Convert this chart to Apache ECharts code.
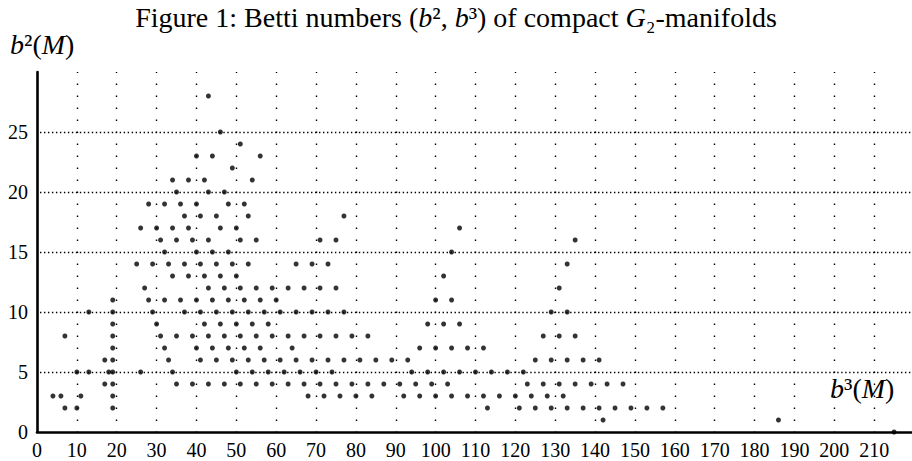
<!DOCTYPE html>
<html>
<head>
<meta charset="utf-8">
<script src="https://cdn.jsdelivr.net/npm/echarts@6/dist/echarts.min.js"></script>
<style>
html,body{margin:0;padding:0;background:#fff;}
#chart{width:912px;height:461px;}
</style>
</head>
<body>
<div id="chart"></div>
<script>
// b2 value of each row, and the b3 values of the points in that row
const b2Rows = [28, 25, 24, 23, 22, 21, 20, 19, 18, 17, 16, 15, 14, 13, 12, 11, 10, 9, 8, 7, 6, 5, 4, 3, 2, 1, 0];
const b3ByRow = [
  [43],
  [46],
  [51],
  [40, 44, 56],
  [49],
  [34, 38, 42, 54],
  [35, 43, 47],
  [28, 32, 36, 40, 48, 52],
  [37, 41, 45, 53, 77],
  [26, 30, 34, 38, 46, 50, 106],
  [31, 35, 39, 43, 51, 55, 71, 75, 135],
  [32, 40, 44, 48, 104],
  [25, 29, 33, 37, 41, 45, 49, 53, 65, 69, 73, 133],
  [34, 38, 42, 46, 50, 102],
  [27, 43, 47, 51, 55, 59, 63, 67, 71, 75, 131],
  [19, 28, 32, 36, 40, 44, 48, 52, 56, 60, 100, 104],
  [13, 19, 29, 37, 41, 45, 49, 53, 57, 61, 65, 69, 73, 77, 129, 133],
  [19, 30, 42, 46, 50, 54, 58, 98, 102, 106],
  [7, 19, 31, 35, 39, 43, 47, 51, 55, 59, 63, 67, 71, 75, 79, 83, 127, 131, 135],
  [19, 32, 40, 44, 48, 52, 56, 64, 96, 100, 104, 108, 112],
  [17, 19, 33, 41, 45, 49, 53, 57, 61, 65, 69, 73, 77, 81, 85, 89, 93, 125, 129, 133, 137, 141],
  [10, 13, 18, 19, 26, 34, 50, 54, 58, 62, 66, 70, 74, 94, 98, 102, 106, 110, 114, 118, 122],
  [17, 19, 35, 39, 43, 47, 51, 55, 59, 63, 67, 71, 75, 79, 83, 87, 91, 95, 99, 103, 123, 127, 131, 135, 139, 143, 147],
  [4, 6, 11, 19, 68, 72, 76, 80, 84, 92, 96, 100, 104, 108, 112, 116, 120, 124, 128, 132],
  [7, 10, 19, 113, 121, 125, 129, 133, 137, 141, 145, 149, 153, 157],
  [142, 186],
  [215]
];
// dotted grid positions
const xGridTicks = [10, 20, 30, 40, 50, 60, 70, 80, 90, 100, 110, 120, 130, 140, 150, 160, 170, 180, 190, 200, 210];
const yGridTicks = [5, 10, 15, 20, 25];

const points = [];
b2Rows.forEach((b2, i) => b3ByRow[i].forEach(b3 => points.push([b3, b2])));

const SERIF = '"Liberation Serif", "DejaVu Serif", serif';

const gridLines = [];
xGridTicks.forEach(v => gridLines.push({
  xAxis: v,
  lineStyle: { color: '#000', width: 1.4, type: [1.4, 10.6], dashOffset: 0.7 }
}));
yGridTicks.forEach(v => gridLines.push({
  yAxis: v,
  lineStyle: { color: '#000', width: 1.4, type: [1.4, 2.586], dashOffset: 0.7 }
}));

const nameRich = {
  n: { fontFamily: SERIF, fontSize: 28, fill: '#000' },
  i: { fontFamily: SERIF, fontSize: 28, fontStyle: 'italic', fill: '#000' }
};

const chart = echarts.init(document.getElementById('chart'), null, { renderer: 'svg' });
chart.setOption({
  animation: false,
  backgroundColor: '#fff',
  title: {
    text: '{n|Figure 1: Betti numbers (}{i|b}{n|², }{i|b}{n|³) of compact }{i|G}{n|₂-manifolds}',
    left: 'center',
    top: 3,
    padding: 0,
    textStyle: {
      fontWeight: 'normal',
      rich: {
        n: { fontFamily: SERIF, fontSize: 28, fontWeight: 'normal', color: '#000' },
        i: { fontFamily: SERIF, fontSize: 28, fontWeight: 'normal', fontStyle: 'italic', color: '#000' }
      }
    }
  },
  graphic: [
    {
      type: 'text', left: 10, top: 30,
      style: { text: '{i|b}{n|²(}{i|M}{n|)}', rich: nameRich }
    },
    {
      type: 'text', left: 830, top: 374,
      style: { text: '{i|b}{n|³(}{i|M}{n|)}', rich: nameRich }
    }
  ],
  grid: { left: 37, right: 0, top: 72, bottom: 29, containLabel: false },
  xAxis: {
    type: 'value', min: 0, max: 219.5, interval: 10,
    axisLine: { show: true, onZero: false, lineStyle: { color: '#000', width: 2.6 } },
    axisTick: { show: false },
    splitLine: { show: false },
    axisLabel: { show: true, showMaxLabel: false, color: '#000', fontFamily: SERIF, fontSize: 20, margin: 8 }
  },
  yAxis: {
    type: 'value', min: 0, max: 30, interval: 5,
    axisLine: { show: true, onZero: false, lineStyle: { color: '#000', width: 2.6 } },
    axisTick: { show: false },
    splitLine: { show: false },
    axisLabel: { show: true, showMaxLabel: false, color: '#000', fontFamily: SERIF, fontSize: 20, margin: 9 }
  },
  series: [{
    type: 'scatter',
    data: points,
    symbol: 'circle',
    symbolSize: 5,
    itemStyle: { color: '#000' },
    silent: true,
    markLine: {
      silent: true,
      symbol: ['none', 'none'],
      label: { show: false },
      emphasis: { disabled: true },
      data: gridLines
    }
  }]
});
</script>
</body>
</html>
